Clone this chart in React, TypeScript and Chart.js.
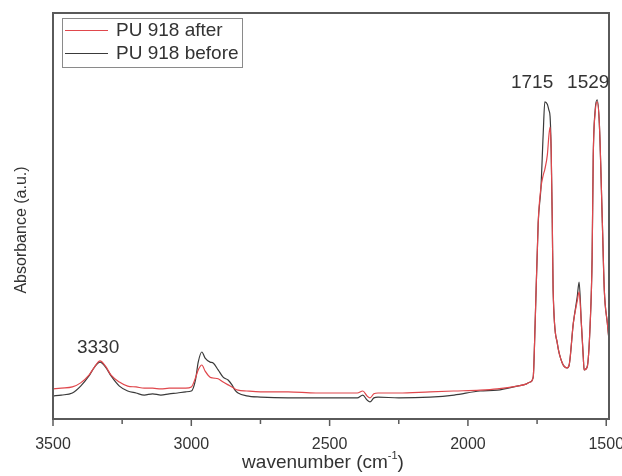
import React, { useEffect, useRef } from "react";
import { Chart, registerables } from "chart.js";

Chart.register(...registerables);

// Wavenumber grid (cm^-1)
const wavenumbers = [
  3500, 3470, 3430, 3400, 3370, 3350, 3330, 3310, 3290, 3260, 3230, 3200, 3170, 3140, 3110, 3080, 3050, 3020,
  3000, 2985, 2975, 2962, 2950, 2932, 2921, 2903, 2885, 2867, 2853, 2842, 2831, 2800, 2750, 2650, 2550, 2400,
  2380, 2365, 2354, 2340, 2325, 2250, 2137, 2050, 1956, 1894, 1822, 1790, 1775, 1764, 1757, 1746, 1736, 1728,
  1722, 1713, 1707, 1703, 1699, 1695, 1692, 1677, 1659, 1641, 1634, 1619, 1605, 1598, 1590, 1583, 1580, 1569,
  1558, 1551, 1547, 1540, 1533, 1525, 1514, 1507, 1496, 1490,
];

// Absorbance (a.u.) – PU 918 after
const afterValues = [
  0.074, 0.076, 0.079, 0.089, 0.108, 0.128, 0.143, 0.13, 0.108, 0.091, 0.081, 0.079, 0.076, 0.076, 0.074, 0.076, 0.076, 0.076,
  0.079, 0.101, 0.121, 0.133, 0.118, 0.103, 0.101, 0.099, 0.091, 0.084, 0.079, 0.074, 0.071, 0.069, 0.067, 0.067, 0.064, 0.064,
  0.069, 0.057, 0.052, 0.062, 0.064, 0.064, 0.067, 0.069, 0.071, 0.074, 0.081, 0.086, 0.091, 0.103, 0.236, 0.483, 0.57, 0.6,
  0.615, 0.65, 0.7, 0.719, 0.66, 0.483, 0.318, 0.187, 0.138, 0.126, 0.133, 0.236, 0.29, 0.313, 0.236, 0.153, 0.121, 0.128,
  0.236, 0.399, 0.645, 0.755, 0.781, 0.729, 0.483, 0.318, 0.236, 0.195,
];

// Absorbance (a.u.) – PU 918 before
const beforeValues = [
  0.057, 0.059, 0.064, 0.081, 0.106, 0.128, 0.14, 0.128, 0.106, 0.081, 0.069, 0.064, 0.059, 0.062, 0.059, 0.062, 0.064, 0.067,
  0.069, 0.096, 0.14, 0.165, 0.15, 0.14, 0.138, 0.121, 0.103, 0.096, 0.084, 0.071, 0.064, 0.057, 0.054, 0.052, 0.052, 0.052,
  0.059, 0.047, 0.042, 0.052, 0.054, 0.052, 0.054, 0.059, 0.069, 0.071, 0.081, 0.086, 0.091, 0.103, 0.236, 0.483, 0.57, 0.7,
  0.781, 0.775, 0.76, 0.745, 0.66, 0.483, 0.318, 0.187, 0.138, 0.126, 0.133, 0.236, 0.3, 0.337, 0.236, 0.153, 0.121, 0.128,
  0.236, 0.399, 0.645, 0.761, 0.786, 0.729, 0.483, 0.318, 0.236, 0.195,
];

const seriesLabels = ["PU 918 after", "PU 918 before"];
const seriesColors = ["#e0474c", "#3a3a3a"];

const xTickValues = [3500, 3250, 3000, 2750, 2500, 2250, 2000, 1750, 1500];

// Peak annotations (text + anchor in data coordinates)
const peakTexts = ["3330", "1715", "1529"];
const peakX = [3337, 1768, 1565];
const peakY = [0.163, 0.815, 0.815];

const FONT = '"Liberation Sans", Arial, Helvetica, sans-serif';

const customPlugin = {
  id: "customDecor",
  afterDraw(chart: any) {
    const { ctx, chartArea, scales } = chart;
    const { left, right, top, bottom } = chartArea;
    const x = scales.x;
    const y = scales.y;
    ctx.save();

    // frame
    ctx.strokeStyle = "#5a5a5a";
    ctx.lineWidth = 2;
    ctx.strokeRect(left, top, right - left, bottom - top);

    // tick marks
    ctx.lineWidth = 1.5;
    x.ticks.forEach((t: any) => {
      const px = x.getPixelForValue(t.value);
      const len = t.value % 500 === 0 ? 7 : 5;
      ctx.beginPath();
      ctx.moveTo(px, bottom);
      ctx.lineTo(px, bottom + len);
      ctx.stroke();
    });

    // y title
    ctx.fillStyle = "#333";
    ctx.font = `16px ${FONT}`;
    ctx.save();
    ctx.translate(22, 230);
    ctx.rotate(-Math.PI / 2);
    ctx.textAlign = "center";
    ctx.textBaseline = "middle";
    ctx.fillText("Absorbance (a.u.)", 0, 0);
    ctx.restore();

    // x title with superscript
    const main = "wavenumber (cm";
    const sup = "-1";
    const close = ")";
    ctx.font = `19px ${FONT}`;
    const wMain = ctx.measureText(main).width;
    const wClose = ctx.measureText(close).width;
    ctx.font = `11px ${FONT}`;
    const wSup = ctx.measureText(sup).width;
    const total = wMain + wSup + wClose;
    let sx = 323 - total / 2;
    const baseY = 468;
    ctx.textAlign = "left";
    ctx.textBaseline = "alphabetic";
    ctx.font = `19px ${FONT}`;
    ctx.fillText(main, sx, baseY);
    sx += wMain;
    ctx.font = `11px ${FONT}`;
    ctx.fillText(sup, sx, baseY - 9);
    sx += wSup;
    ctx.font = `19px ${FONT}`;
    ctx.fillText(close, sx, baseY);

    // legend
    ctx.strokeStyle = "#8a8a8a";
    ctx.lineWidth = 1;
    ctx.strokeRect(62.5, 18.5, 180, 49);
    ctx.font = `19px ${FONT}`;
    ctx.textBaseline = "middle";
    chart.data.datasets.forEach((ds: any, i: number) => {
      const ly = 30 + i * 23;
      ctx.strokeStyle = ds.borderColor;
      ctx.lineWidth = 1;
      ctx.beginPath();
      ctx.moveTo(65, ly + 0.5);
      ctx.lineTo(108, ly + 0.5);
      ctx.stroke();
      ctx.fillStyle = "#333";
      ctx.fillText(ds.label, 116, ly + 1);
    });

    // peak labels
    ctx.textAlign = "center";
    ctx.textBaseline = "alphabetic";
    ctx.fillStyle = "#333";
    ctx.font = `19px ${FONT}`;
    peakTexts.forEach((t, i) => {
      ctx.fillText(t, x.getPixelForValue(peakX[i]), y.getPixelForValue(peakY[i]));
    });

    ctx.restore();
  },
};

export default function App() {
  const canvasRef = useRef<HTMLCanvasElement | null>(null);

  useEffect(() => {
    document.body.style.margin = "0";
    const canvas = canvasRef.current;
    if (!canvas) return;
    const values = [afterValues, beforeValues];
    const chart = new Chart(canvas, {
      type: "line",
      data: {
        datasets: seriesLabels.map((label, i) => ({
          label,
          data: wavenumbers.map((w, k) => ({ x: w, y: values[i][k] })),
          borderColor: seriesColors[i],
          backgroundColor: seriesColors[i],
          borderWidth: 1.2,
          pointRadius: 0,
          cubicInterpolationMode: "monotone" as const,
          fill: false,
        })),
      },
      options: {
        responsive: false,
        animation: false,
        events: [],
        layout: { padding: { top: 13, right: 13, left: 53, bottom: 0 } },
        plugins: { legend: { display: false }, tooltip: { enabled: false }, title: { display: false } },
        scales: {
          x: {
            type: "linear",
            reverse: true,
            min: 1490,
            max: 3500,
            afterBuildTicks: (scale: any) => {
              scale.ticks = xTickValues.map((v) => ({ value: v }));
            },
            afterFit: (scale: any) => {
              scale.height = 57;
              scale.paddingLeft = 0;
              scale.paddingRight = 0;
            },
            grid: { display: false, drawTicks: false },
            border: { display: false },
            ticks: {
              autoSkip: false,
              maxRotation: 0,
              padding: 16,
              color: "#333",
              font: { family: FONT, size: 16 },
              callback: (v: any) => (Number(v) % 500 === 0 ? String(v) : ""),
            },
          },
          y: {
            display: false,
            min: 0,
            max: 1,
          },
        },
      },
      plugins: [customPlugin],
    });
    return () => chart.destroy();
  }, []);

  return (
    <div style={{ position: "absolute", left: 0, top: 0, width: 622, height: 476, background: "#fff" }}>
      <canvas ref={canvasRef} width={622} height={476} style={{ display: "block" }} />
    </div>
  );
}
